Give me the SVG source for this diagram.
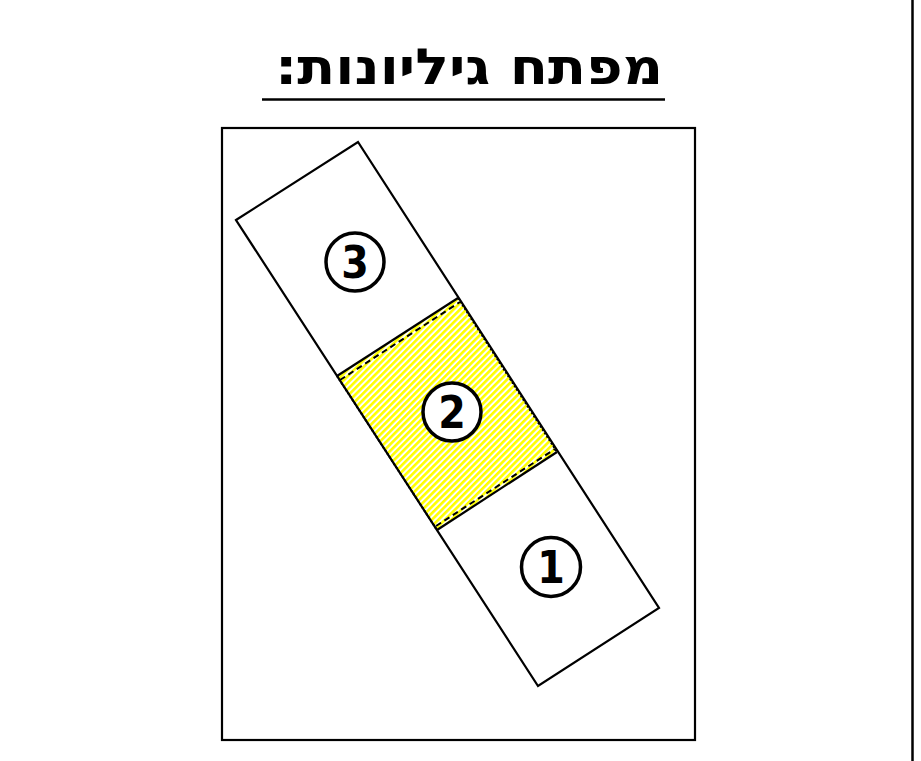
<svg xmlns="http://www.w3.org/2000/svg" width="921" height="761" viewBox="0 0 921 761">
  <defs>
    <pattern id="hatch" patternUnits="userSpaceOnUse" width="4.6" height="4.6" patternTransform="rotate(45)">
      <rect x="0" y="0" width="4.6" height="4.6" fill="#ffffff"/>
      <rect x="0" y="0" width="2.6" height="4.6" fill="#ffff00"/>
    </pattern>
  </defs>
  <style>
    .ln { fill: none; stroke: #000; stroke-width: 2.2; stroke-linejoin: miter; }
    .ring { fill: #fff; stroke: #000; stroke-width: 3.5; }
    .num { font-family: "DejaVu Sans", "Liberation Sans", sans-serif; font-stretch: condensed; font-weight: bold; font-size: 44px; text-anchor: middle; fill: #000; }
    .title { font-family: "DejaVu Sans", "Liberation Sans", sans-serif; font-weight: bold; font-size: 50px; text-anchor: middle; fill: #000; }
    .dot { fill: none; stroke: #000; stroke-width: 2; stroke-dasharray: 2 2; }
    .dash { fill: none; stroke: #000; stroke-width: 2; stroke-dasharray: 6 4; }
  </style>
  <rect width="921" height="761" fill="#fff"/>

  <g id="title">
    <text class="title" x="469" y="84" direction="rtl" textLength="388" lengthAdjust="spacingAndGlyphs">מפתח גיליונות:</text>
    <line x1="262" y1="99.5" x2="665" y2="99.5" stroke="#000" stroke-width="2.5"/>
  </g>

  <g id="frame">
    <rect class="ln" x="222" y="128" width="473" height="612"/>
    <line x1="912.5" y1="0" x2="912.5" y2="761" stroke="#000" stroke-width="2.5"/>
  </g>

  <g id="sheet2">
    <polygon points="337,376 458,298 557,452 437,530" fill="url(#hatch)"/>
    <line class="dot" x1="458" y1="298" x2="557" y2="452"/>
    <line class="dot" x1="337" y1="376" x2="437" y2="530"/>
    <line class="dash" x1="340" y1="380" x2="460" y2="302"/>
    <line class="dash" x1="436" y1="526" x2="555" y2="449"/>
  </g>

  <g id="strip">
    <polygon class="ln" points="236,220 358,142 659,608 538,686"/>
    <line class="ln" x1="337" y1="376" x2="458" y2="298"/>
    <line class="ln" x1="437" y1="530" x2="557" y2="452"/>
  </g>

  <g id="sheet3-label">
    <circle class="ring" cx="355" cy="262" r="29"/>
    <text class="num" x="355" y="278">3</text>
  </g>
  <g id="sheet2-label">
    <circle class="ring" cx="452" cy="412" r="29"/>
    <text class="num" x="452" y="428">2</text>
  </g>
  <g id="sheet1-label">
    <circle class="ring" cx="551" cy="567" r="29.5"/>
    <text class="num" x="551" y="583">1</text>
  </g>
</svg>
